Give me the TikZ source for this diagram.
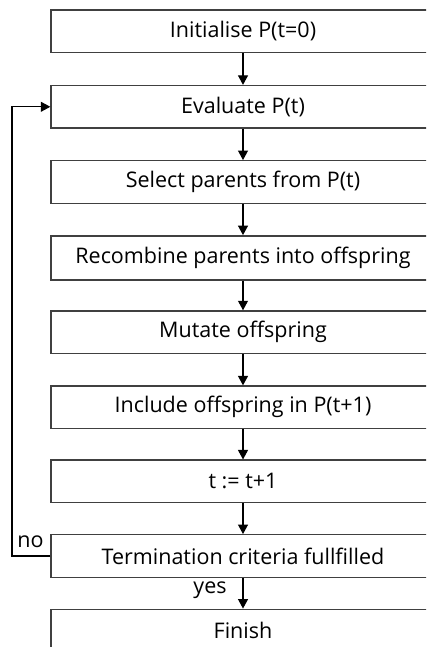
\documentclass[tikz,border=0pt]{standalone}
\usepackage{fontspec}
\setmainfont{Open Sans}
\usetikzlibrary{arrows.meta}
\definecolor{boxline}{HTML}{404040}
\tikzset{
  stepbox/.style={draw=boxline, line width=1.4pt, rectangle, minimum width=384pt,
    minimum height=42.5pt, inner sep=0pt, font=\fontsize{21.5}{24}\selectfont},
  flow/.style={line width=1.1pt, -{Triangle[length=9.5pt,width=10pt]}},
  lbl/.style={font=\fontsize{21.5}{24}\selectfont, inner sep=0pt}
}
\begin{document}
\begin{tikzpicture}[x=1pt,y=-1pt]
\useasboundingbox (0,0) rectangle (426,647);
\clip (0,0) rectangle (426,647);
\node[stepbox] (b1) at (243,31.2) {Initialise P(t=0)};
\node[stepbox] (b2) at (243,106.8) {Evaluate P(t)};
\node[stepbox] (b3) at (243,182) {Select parents from P(t)};
\node[stepbox, minimum height=44pt] (b4) at (243,257.8) {Recombine parents into offspring};
\node[stepbox] (b5) at (243,332.2) {Mutate offspring};
\node[stepbox] (b6) at (243,407.3) {Include offspring in P(t+1)};
\node[stepbox] (b7) at (243,481.4) {t := t+1};
\node[stepbox] (b8) at (243,556) {Termination criteria fullfilled};
\node[stepbox] (b9) at (243,630.5) {Finish};
\draw[flow] (b1.south) -- (b2.north);
\draw[flow] (b2.south) -- (b3.north);
\draw[flow] (b3.south) -- (b4.north);
\draw[flow] (b4.south) -- (b5.north);
\draw[flow] (b5.south) -- (b6.north);
\draw[flow] (b6.south) -- (b7.north);
\draw[flow] (b7.south) -- (b8.north);
\draw[flow] (b8.south) -- (b9.north);
\coordinate (c1) at (12,556);
\coordinate (c2) at (12,106.8);
\draw[flow] (b8.west) -- (c1) -- (c2) -- (b2.west);
\node[lbl] (no) at (30.5,541.5) {no};
\node[lbl] (yes) at (210,590.5) {yes};
\end{tikzpicture}
\end{document}
